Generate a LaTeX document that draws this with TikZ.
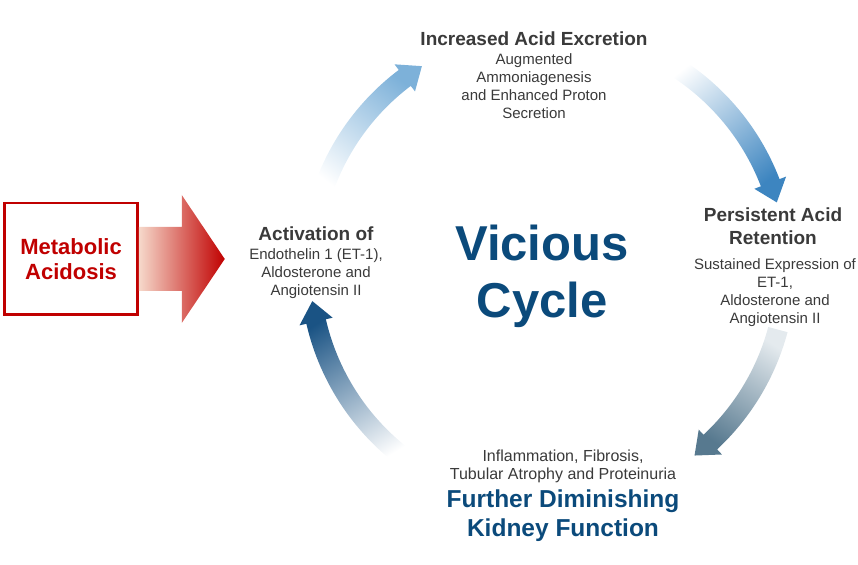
\documentclass[tikz,border=0pt]{standalone}
\usepackage{fontspec}
\setmainfont{Liberation Sans}
\usepackage{tikz}

\definecolor{acidred}{HTML}{C00000}
\definecolor{acidpeach}{HTML}{F6D9CB}
\definecolor{textgray}{HTML}{3A3A3A}
\definecolor{cycleblue}{HTML}{0B4A7B}
\definecolor{ulblue}{HTML}{7DB1D9}
\definecolor{urblue}{HTML}{3D85C0}
\definecolor{lrslate}{HTML}{57798F}
\definecolor{lrgray}{HTML}{E4EAEE}
\definecolor{llblue}{HTML}{1A5384}

\begin{document}
\begin{tikzpicture}[x=1pt, y=1pt,
  heading/.style={text=textgray, font=\fontsize{19}{23}\selectfont\bfseries, align=center, inner sep=0pt, anchor=north},
  bodytext/.style={text=textgray, font=\fontsize{15}{18}\selectfont, align=center, inner sep=0pt, anchor=north}]
  \useasboundingbox (0,0) rectangle (858,564);

  \node [draw=acidred, line width=2.5pt, minimum width=133pt, minimum height=111.5pt, inner sep=0pt,
         align=center, text=acidred, font=\fontsize{22}{25.6}\selectfont\bfseries] (acid) at (71,305) {Metabolic\\Acidosis};
  \shade [left color=acidpeach, right color=acidred] ([yshift=32pt]acid.east) -- ++(43,0) -- ++(0,32) -- ++(43,-64) -- ++(-43,-64) -- ++(0,32) -- ++(-43,0) -- cycle;

  \node [heading] (act) at (316,337.5) {Activation of};
  \node [bodytext] (actbody) at (316,315.5) {Endothelin 1 (ET-1),\\Aldosterone and\\Angiotensin II};
  \node [heading] (excr) at (534,532) {Increased Acid Excretion};
  \node [bodytext] (excrbody) at (534,511) {Augmented\\Ammoniagenesis\\and Enhanced Proton\\Secretion};
  \node [heading] (ret) at (773,356) {Persistent Acid\\Retention};
  \node [bodytext] (retbody) at (775,305.5) {Sustained Expression of\\ET-1,\\Aldosterone and\\Angiotensin II};
  \node [bodytext, font=\fontsize{16}{18.3}\selectfont] (inflam) at (563,114.5) {Inflammation, Fibrosis,\\Tubular Atrophy and Proteinuria};
  \node [heading, text=cycleblue, font=\fontsize{24.5}{29}\selectfont\bfseries] (kidney) at (563,74) {Further Diminishing\\Kidney Function};
  \node [heading, text=cycleblue, font=\fontsize{49}{57}\selectfont\bfseries] (vicious) at (542,339.5) {Vicious\\Cycle};

  \begin{scope}[shift={(548,296)}]
    \shade [top color=ulblue, bottom color=white, shading angle=-37.5] (163:248) arc [start angle=163, end angle=127, radius=248] -- (127:255) -- (122:238) -- (127:221) -- (127:228) arc [start angle=127, end angle=163, radius=228] -- cycle;
    \shade [top color=urblue, bottom color=white, shading angle=-141.5] (61:248) arc [start angle=61, end angle=21, radius=248] -- (21:255) -- (16:238) -- (21:221) -- (21:228) arc [start angle=21, end angle=61, radius=228] -- cycle;
    \shade [top color=lrslate, bottom color=lrgray, shading angle=146.7] (-15:248) arc [start angle=-15, end angle=-47, radius=248] -- (-47:255) -- (-52:238) -- (-47:221) -- (-47:228) arc [start angle=-47, end angle=-15, radius=228] -- cycle;
    \shade [top color=llblue, bottom color=white, shading angle=31.5] (-125:248) arc [start angle=-125, end angle=-167, radius=248] -- (-167:255) -- (-172:238) -- (-167:221) -- (-167:228) arc [start angle=-167, end angle=-125, radius=228] -- cycle;
  \end{scope}
\end{tikzpicture}
\end{document}
